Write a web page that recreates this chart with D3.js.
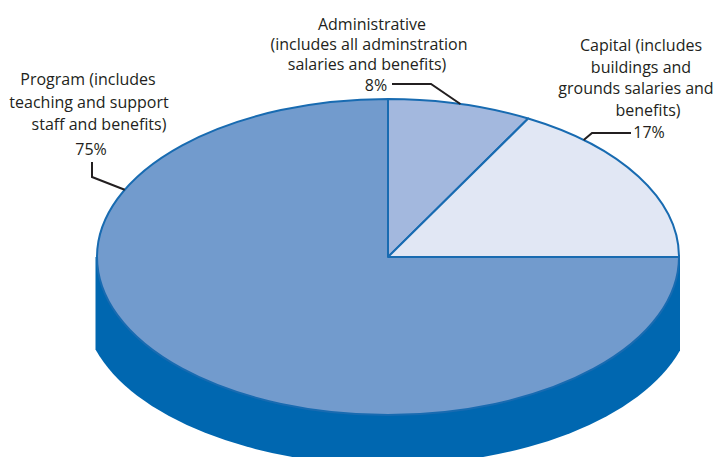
<!DOCTYPE html>
<html>
<head>
<meta charset="utf-8">
<script src="https://cdn.jsdelivr.net/npm/d3@7"></script>
<style>
  html, body { margin: 0; padding: 0; background: #ffffff; }
  svg { display: block; }
  text { font-family: "Open Sans", Lato, sans-serif; font-size: 16px; fill: #231f20; }
</style>
</head>
<body>
<svg id="chart" width="717" height="457"></svg>
<script>
// ---- data ----
const categories = ["Administrative", "Capital", "Program"];
const values = [8, 17, 75];
const percentLabels = ["8%", "17%", "75%"];
const labelLines = [
  ["Administrative", "(includes all adminstration", "salaries and benefits)"],
  ["Capital (includes", "buildings and", "grounds salaries and", "benefits)"],
  ["Program (includes", "teaching and support", "staff and benefits)"]
];
const sliceColors = ["#a3b8de", "#e1e7f4", "#729bcd"];

(function () {
// ---- layout ----
const cx = 388, cy = 257, rx = 291, ry = 158;
const sideColor = "#0067b0";
const edgeColor = "#186bb1";

const svg = d3.select("#chart");

// side (depth) of the pie
const bot = { cx: 388, cy: 304, rx: 305, ry: 161 };
const leftX = 95.5, rightX = 680;
const yb = x => bot.cy + bot.ry * Math.sqrt(Math.max(0, 1 - ((x - bot.cx) / bot.rx) ** 2));
const sideD = `M${leftX},${cy} L${leftX},${yb(leftX)} A${bot.rx},${bot.ry} 0 0 0 ${rightX},${yb(rightX)} L${rightX},${cy} Z`;
svg.append("path").attr("d", sideD).attr("fill", sideColor);

// top of the pie: d3.pie + d3.arc squashed into an ellipse
const pie = d3.pie().sort(null).value(d => d)(values);
const arc = d3.arc().innerRadius(0).outerRadius(rx);
const topG = svg.append("g").attr("transform", `translate(${cx},${cy}) scale(1,${ry / rx})`);
topG.selectAll("path.slice")
  .data(pie)
  .join("path")
  .attr("class", "slice")
  .attr("d", arc)
  .attr("fill", (d, i) => sliceColors[i])
  .attr("stroke", edgeColor)
  .attr("stroke-width", 2)
  .attr("stroke-linejoin", "round")
  .attr("vector-effect", "non-scaling-stroke");

// point on the top ellipse at a given pie angle
const onEdge = a => [cx + rx * Math.sin(a), cy - ry * Math.cos(a)];

// ---- labels ----
const layout = [
  { // Administrative
    lines: [[372, 30], [369, 50], [367, 70]],
    pct: [376, 91],
    anchorFrac: 0.5,
    leader: p => [[392, 84], [431, 84], p]
  },
  { // Capital
    lines: [[641, 51], [641, 73], [636, 94], [648, 116]],
    pct: [649, 138],
    anchorFrac: 0.22,
    leader: p => [[631, 133], [592, 133], p]
  },
  { // Program
    lines: [[88, 85], [89, 108], [99, 130]],
    pct: [91, 155],
    anchorFrac: 0.76,
    leader: p => [[92, 162], [92, 177], p]
  }
];

const labels = svg.append("g");
pie.forEach((d, i) => {
  const L = layout[i];
  const g = labels.append("g");
  labelLines[i].forEach((t, j) => {
    g.append("text").attr("x", L.lines[j][0]).attr("y", L.lines[j][1])
      .attr("text-anchor", "middle").text(t);
  });
  g.append("text").attr("x", L.pct[0]).attr("y", L.pct[1])
    .attr("text-anchor", "middle").text(percentLabels[i]);
  const a = d.startAngle + (d.endAngle - d.startAngle) * L.anchorFrac;
  const pts = L.leader(onEdge(a));
  g.append("path").attr("d", d3.line()(pts))
    .attr("fill", "none").attr("stroke", "#231f20").attr("stroke-width", 2);
});
})();
</script>
</body>
</html>
